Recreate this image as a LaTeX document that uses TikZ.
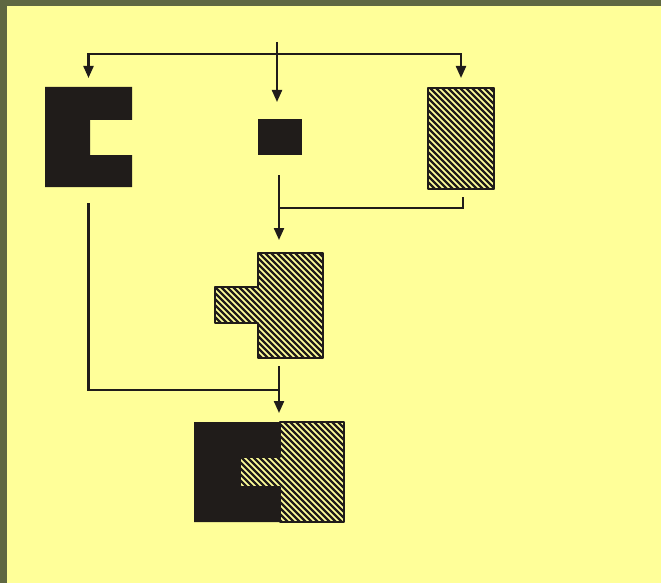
\documentclass[tikz,border=0pt]{standalone}
\usetikzlibrary{arrows.meta,calc}
\definecolor{bgyellow}{RGB}{255,255,153}
\definecolor{frameolive}{RGB}{95,104,66}
\definecolor{ink}{RGB}{32,28,26}
\newcommand{\hatchfill}[1]{%
  \begin{scope}
    \clip #1;
    \fill[bgyellow] #1;
    \foreach \k in {-60,...,80}{
      \draw[ink,line width=2.4pt] ({6*\k},0) -- ++(600,600);
    }
  \end{scope}
  \draw[ink,line width=2pt,line join=round] #1;}
\begin{document}
\begin{tikzpicture}[x=1pt,y=-1pt,
  conn/.style={draw=ink,line width=2.2pt,-{Triangle[width=10pt,length=12pt]}},
  plain/.style={draw=ink,line width=2.2pt},
  holder/.style={inner sep=0pt,outer sep=0pt,draw=none}]
\useasboundingbox (0,0) rectangle (661,583);
\fill[frameolive] (0,0) rectangle (661,583);
\fill[bgyellow] (7,6) rectangle (661,583);

% placeholders (named nodes) for each figure
\node[holder,minimum width=87pt,minimum height=100pt] (C) at (88.5,137) {};
\node[holder,minimum width=44pt,minimum height=36pt] (S) at (280,137) {};
\node[holder,minimum width=66pt,minimum height=101pt] (H) at (461,138.5) {};
\node[holder,minimum width=108pt,minimum height=105pt] (T) at (269,305.5) {};
\node[holder,minimum width=150pt,minimum height=100pt] (R) at (269,472) {};

% black C
\fill[ink] (45,87) -- (132,87) -- (132,120) -- (90,120) -- (90,155) -- (132,155) -- (132,187) -- (45,187) -- cycle;
% small black square
\fill[ink] (258,119) rectangle (302,155);
% hatched rectangle
\hatchfill{(428,88) -- (494,88) -- (494,189) -- (428,189) -- cycle}
% hatched T
\hatchfill{(258,253) -- (323,253) -- (323,358) -- (258,358) -- (258,323) -- (215,323) -- (215,287) -- (258,287) -- cycle}
% combined result
\fill[ink] (194,422) -- (280,422) -- (280,457) -- (240,457) -- (240,487) -- (280,487) -- (280,522) -- (194,522) -- cycle;
\hatchfill{(280,422) -- (344,422) -- (344,522) -- (280,522) -- (280,487) -- (240,487) -- (240,457) -- (280,457) -- cycle}

% connectors
\coordinate (top) at (277,42);
\coordinate (split) at (277,54);
\draw[plain] (top) -- (split);
\draw[conn] (split) -| ($(C.north)+(0,-9)$);
\draw[conn] (split) -- ($(S.north)+(-3,-17)$);
\draw[conn] (split) -| ($(H.north)+(0,-10)$);

\coordinate (mid) at (279,208);
\draw[conn] ($(S.south)+(-1,20)$) -- ($(T.north)+(10,-13)$);
\draw[plain] ($(H.south)+(2,8)$) |- (mid);

\coordinate (low) at (279,390);
\draw[conn] ($(T.south)+(10,8)$) -- ($(R.north)+(10,-9)$);
\draw[plain] ($(C.south)+(0,16)$) |- (low);
\end{tikzpicture}
\end{document}
